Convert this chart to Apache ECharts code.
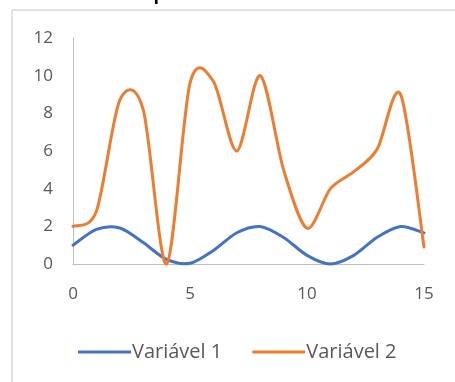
<!DOCTYPE html>
<html>
<head>
<meta charset="utf-8">
<script src="https://cdn.jsdelivr.net/npm/echarts@6/dist/echarts.min.js"></script>
<style>
  html, body { margin: 0; padding: 0; background: #fff; }
  #chart { width: 455px; height: 382px; }
</style>
</head>
<body>
<div id="chart"></div>
<script>
// x positions shared by both series
const xValues = [0, 1, 2, 3, 4, 5, 6, 7, 8, 9, 10, 11, 12, 13, 14, 15];
// series values
const variavel1 = [1, 1.84, 1.91, 1.14, 0.24, 0.04, 0.72, 1.66, 1.99, 1.41, 0.46, 0.0, 0.46, 1.42, 1.99, 1.65];
const variavel2 = [2, 2.8, 8.7, 8.2, 0, 9.6, 9.7, 6, 10, 5, 1.9, 4, 4.9, 6.1, 9, 0.9];
const seriesNames = ['Variável 1', 'Variável 2'];
const seriesColors = ['#4472C4', '#ED7D31'];
const chartTitle = 'Gráfico representativo das variáveis';

const FONT = '"Open Sans", "Liberation Sans", sans-serif';
const chart = echarts.init(document.getElementById('chart'), null, { renderer: 'canvas' });

// Smooth curve through all points (cardinal spline), positioned
// through the chart's own coordinate system.
function smoothPath(ys, color) {
  return function (params, api) {
    if (params.dataIndex !== 0) return null;
    const pts = xValues.map((x, i) => api.coord([x, ys[i]]));
    const n = pts.length;
    const t = 0.15;
    let d = 'M' + pts[0][0] + ' ' + pts[0][1];
    for (let i = 0; i < n - 1; i++) {
      const p0 = pts[Math.max(i - 1, 0)];
      const p1 = pts[i];
      const p2 = pts[i + 1];
      const p3 = pts[Math.min(i + 2, n - 1)];
      const c1x = p1[0] + (p2[0] - p0[0]) * t;
      const c1y = p1[1] + (p2[1] - p0[1]) * t;
      const c2x = p2[0] - (p3[0] - p1[0]) * t;
      const c2y = p2[1] - (p3[1] - p1[1]) * t;
      d += ' C' + c1x + ' ' + c1y + ' ' + c2x + ' ' + c2y + ' ' + p2[0] + ' ' + p2[1];
    }
    return {
      type: 'path',
      shape: { pathData: d },
      style: { fill: null, stroke: color, lineWidth: 3, lineJoin: 'round', lineCap: 'round' }
    };
  };
}

function curveSeries(k, ys) {
  return {
    name: seriesNames[k],
    type: 'custom',
    coordinateSystem: 'cartesian2d',
    data: xValues.map((x, i) => [x, ys[i]]),
    encode: { x: 0, y: 1 },
    clip: false,
    itemStyle: { color: seriesColors[k] },
    renderItem: smoothPath(ys, seriesColors[k])
  };
}

chart.setOption({
  animation: false,
  backgroundColor: '#ffffff',
  title: {
    text: chartTitle,
    left: 'center',
    top: -19,
    textStyle: { fontFamily: FONT, fontSize: 18, fontWeight: 'bold', color: '#000' }
  },
  graphic: [
    { type: 'line', z: -1, shape: { x1: 12, y1: 10, x2: 455, y2: 10 }, style: { stroke: '#e2e2e2', lineWidth: 2 } },
    { type: 'line', z: -1, shape: { x1: 12, y1: 10, x2: 12, y2: 382 }, style: { stroke: '#e2e2e2', lineWidth: 2 } }
  ],
  grid: { left: 73, right: 31, top: 38, bottom: 118, containLabel: false },
  xAxis: {
    type: 'value',
    min: 0, max: 15, interval: 5,
    axisLine: { show: true, onZero: false, lineStyle: { color: '#bfbfbf', width: 1 } },
    axisTick: { show: false },
    splitLine: { show: false },
    axisLabel: { margin: 22, color: '#595959', fontSize: 17, fontFamily: FONT }
  },
  yAxis: {
    type: 'value',
    min: 0, max: 12, interval: 2,
    axisLine: { show: true, lineStyle: { color: '#bfbfbf', width: 1 } },
    axisTick: { show: false },
    splitLine: { show: false },
    axisLabel: { margin: 20, color: '#595959', fontSize: 17, fontFamily: FONT }
  },
  legend: {
    top: 337,
    left: 73,
    itemWidth: 53,
    itemHeight: 3,
    itemGap: 30,
    icon: 'rect',
    textStyle: { color: '#595959', fontSize: 20, fontFamily: FONT, padding: [0, 0, 0, -4] },
    data: seriesNames
  },
  series: [curveSeries(0, variavel1), curveSeries(1, variavel2)]
});
</script>
</body>
</html>
